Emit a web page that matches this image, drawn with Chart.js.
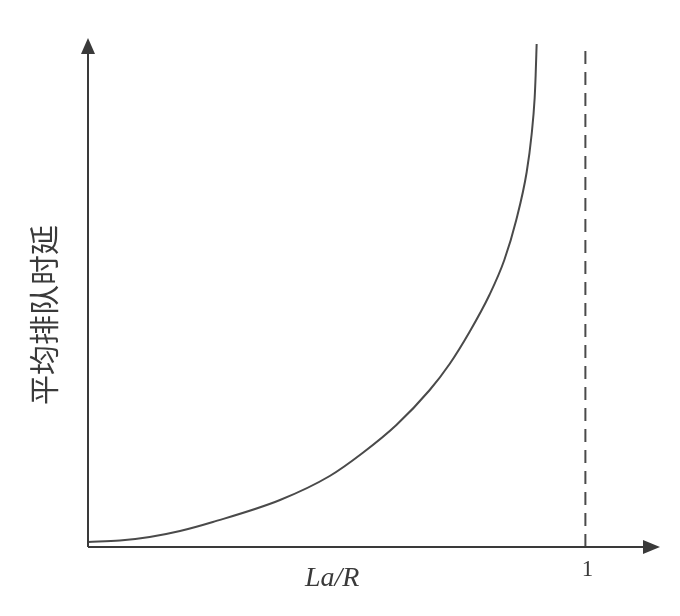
<!DOCTYPE html>
<html lang="zh">
<head>
    <meta charset="UTF-8">
    <title>平均排队时延</title>
    <script src="https://cdn.jsdelivr.net/npm/chart.js"></script>
    <style>
        body {
            margin: 0;
            padding: 0;
            background-color: #fff;
        }
        #wrap {
            width: 680px;
            height: 616px;
            position: relative;
        }
    </style>
</head>
<body>
    <div id="wrap">
        <canvas id="delayChart"></canvas>
    </div>

    <script>
        // traffic intensity La/R and average queueing delay (arbitrary units)
        const intensity = [0, 0.064, 0.124, 0.185, 0.251, 0.386, 0.486, 0.552, 0.620, 0.687, 0.727, 0.767, 0.807, 0.837, 0.861, 0.882, 0.892, 0.898, 0.900, 0.902];
        const delay     = [0.10, 0.13, 0.20, 0.32, 0.50, 0.94, 1.42, 1.88, 2.44, 3.14, 3.66, 4.30, 5.04, 5.74, 6.54, 7.50, 8.26, 8.98, 9.44, 10.06];

        const limitX = [1, 1];          // the asymptote La/R = 1
        const limitY = [0, 10.08];

        const xTitle = 'La/R';
        const yTitle = '平均排队时延';
        const tickLabel = '1';

        const ink = '#3a3a3a';

        // axes with arrow heads plus the hand-placed labels
        const axesPlugin = {
            id: 'axesPlugin',
            afterDraw(chart) {
                const ctx = chart.ctx;
                const x = chart.scales.x;
                const y = chart.scales.y;
                const x0 = x.getPixelForValue(0);
                const x1 = x.getPixelForValue(x.max);
                const y0 = y.getPixelForValue(0);
                const y1 = y.getPixelForValue(y.max);

                ctx.save();
                ctx.strokeStyle = ink;
                ctx.fillStyle = ink;
                ctx.lineWidth = 2;

                ctx.beginPath();
                ctx.moveTo(x0, y0);
                ctx.lineTo(x1 - 10, y0);
                ctx.moveTo(x0, y0);
                ctx.lineTo(x0, y1 + 10);
                ctx.stroke();

                // arrow heads
                ctx.beginPath();
                ctx.moveTo(x1, y0);
                ctx.lineTo(x1 - 17, y0 - 7);
                ctx.lineTo(x1 - 17, y0 + 7);
                ctx.closePath();
                ctx.fill();

                ctx.beginPath();
                ctx.moveTo(x0, y1);
                ctx.lineTo(x0 - 7, y1 + 16);
                ctx.lineTo(x0 + 7, y1 + 16);
                ctx.closePath();
                ctx.fill();

                // labels
                ctx.textAlign = 'center';
                ctx.textBaseline = 'middle';
                ctx.font = 'italic 28px "Liberation Serif", "DejaVu Serif", serif';
                ctx.fillText(xTitle, x.getPixelForValue(0.491), y0 + 32);

                ctx.font = '23px "Liberation Serif", "DejaVu Serif", serif';
                ctx.fillText(tickLabel, x.getPixelForValue(limitX[0]) + 2, y0 + 23);

                ctx.translate(44, y.getPixelForValue(4.64));
                ctx.rotate(-Math.PI / 2);
                ctx.font = '30px "Noto Sans CJK SC", sans-serif';
                ctx.fillText(yTitle, 0, 0);
                ctx.restore();
            }
        };

        const chart = new Chart(document.getElementById('delayChart'), {
            type: 'line',
            data: {
                datasets: [
                    {
                        label: 'delay',
                        data: intensity.map((v, i) => ({ x: v, y: delay[i] })),
                        borderColor: '#4a4a4a',
                        borderWidth: 2,
                        pointRadius: 0,
                        fill: false,
                        cubicInterpolationMode: 'monotone'
                    },
                    {
                        label: 'limit',
                        data: limitX.map((v, i) => ({ x: v, y: limitY[i] })),
                        borderColor: '#4a4a4a',
                        borderWidth: 2,
                        borderDash: [13, 8],
                        pointRadius: 0,
                        fill: false
                    }
                ]
            },
            options: {
                responsive: true,
                maintainAspectRatio: false,
                animation: false,
                layout: {
                    padding: { left: 88, right: 20, top: 38, bottom: 69 }
                },
                plugins: {
                    legend: { display: false },
                    tooltip: { enabled: false }
                },
                scales: {
                    x: { type: 'linear', min: 0, max: 1.15, display: false },
                    y: { type: 'linear', min: 0, max: 10.18, display: false }
                }
            },
            plugins: [axesPlugin]
        });
    </script>
</body>
</html>
